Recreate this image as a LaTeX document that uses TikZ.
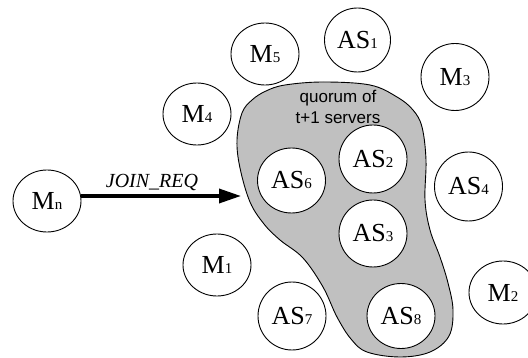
\documentclass[tikz,border=0pt]{standalone}
\usepackage{fontspec}
\setmainfont{Liberation Serif}
\newfontfamily\qsans{Liberation Sans}
\usetikzlibrary{shapes.geometric,arrows.meta}
\definecolor{quorumgray}{RGB}{192,192,192}
\newcommand\nlab[2]{{\fontsize{26}{26}\selectfont #1}{\fontsize{15}{15}\selectfont #2}}
\begin{document}
\begin{tikzpicture}[x=1pt,y=-1pt,
  srv/.style={ellipse,draw=black,fill=white,line width=0.9pt,inner sep=0pt,
    minimum width=68pt,minimum height=68pt},
  mem/.style={ellipse,draw=black,fill=white,line width=0.9pt,inner sep=0pt,
    minimum width=68pt,minimum height=62pt},
  qlabel/.style={align=center,font=\qsans\fontsize{17}{21}\selectfont,inner sep=0pt},
  reqlabel/.style={font=\itshape\fontsize{20}{20}\selectfont,inner sep=0pt,anchor=base},
  joinarrow/.style={line width=3.5pt,-{Triangle[length=22pt,width=14pt]}}]
\useasboundingbox (0,0) rectangle (528,358);
% quorum region
\draw[fill=quorumgray,line width=0.9pt] plot[smooth cycle,tension=0.6] coordinates {
  (323,82) (370,85) (397,97) (413,110) (422,127) (426,160) (425,200)
  (430,230) (440,257) (448,283) (453,310) (449,336) (430,352) (400,357)
  (367,352) (351,339) (337,317) (323,287) (303,258) (280,240) (264,224)
  (250,202) (240,168) (237,140) (242,113) (252,100) (266,91) (285,85)};
\node[qlabel] (q) at (338,106.5) {quorum of\\t+1 servers};
% nodes
\node[mem] (Mn) at (47,201) {\nlab{M}{n}};
\node[mem] (M5) at (265,54) {\nlab{M}{5}};
\node[srv,minimum width=66pt,minimum height=64pt] (AS1) at (357.5,40) {\nlab{AS}{1}};
\node[mem] (M4) at (197,114) {\nlab{M}{4}};
\node[mem,minimum height=67pt] (M3) at (455,77) {\nlab{M}{3}};
\node[srv] (AS2) at (373,159) {\nlab{AS}{2}};
\node[srv,minimum height=65pt] (AS6) at (291.5,180.5) {\nlab{AS}{6}};
\node[srv,minimum height=69pt] (AS4) at (468.5,186.5) {\nlab{AS}{4}};
\node[srv,minimum height=67pt] (AS3) at (373,233.5) {\nlab{AS}{3}};
\node[mem] (M1) at (217,265) {\nlab{M}{1}};
\node[mem,minimum height=63pt] (M2) at (503,292.5) {\nlab{M}{2}};
\node[srv] (AS7) at (292,316) {\nlab{AS}{7}};
\node[srv,minimum height=65pt] (AS8) at (401,316) {\nlab{AS}{8}};
% join request
\coordinate (tip) at (241,196);
\draw[joinarrow] (Mn.east |- tip) -- (tip);
\node[reqlabel] (jr) at (152,188) {JOIN\_REQ};
\end{tikzpicture}
\end{document}
